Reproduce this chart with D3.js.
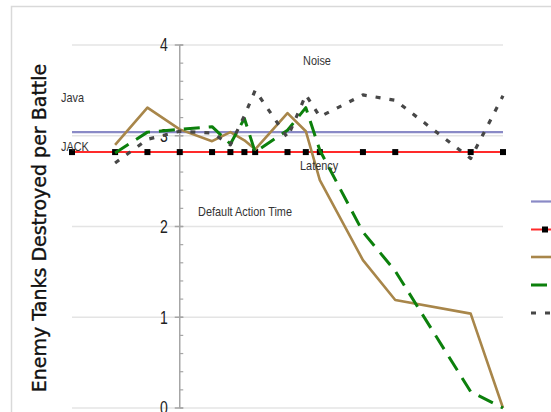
<!DOCTYPE html>
<html>
<head>
<meta charset="utf-8">
<script src="https://cdn.jsdelivr.net/npm/d3@7"></script>
<style>
  html, body { margin: 0; padding: 0; background: #fff; overflow: hidden; }
  svg { display: block; }
</style>
</head>
<body>
<svg id="chart" width="551" height="412"></svg>
<script>
// ---- data ----
const xValues   = [-1, -0.6, -0.3, 0, 0.3, 0.47, 0.6, 0.7, 1, 1.17, 1.3, 1.7, 2, 2.7, 3];
const javaValue = 3.04;
const jackValue = 2.82;
const defaultActionTime = [null, 2.90, 3.31, 3.07, 2.94, 3.04, 2.95, 2.85, 3.25, 3.05, 2.51, 1.63, 1.19, 1.04, 0.00];
const latency           = [null, 2.81, 3.04, 3.07, 3.10, 2.91, 3.19, 2.82, 3.06, 3.31, 2.84, 1.94, 1.51, 0.18, 0.00];
const noise             = [null, 2.70, 2.96, 3.05, 3.03, 2.90, 3.22, 3.50, 2.98, 3.45, 3.21, 3.45, 3.39, 2.75, 3.44];
const yTicks = [0, 1, 2, 3, 4];
const yMinorTicks = d3.range(0, 4.0001, 0.2);
const seriesNames = ["Java", "JACK", "Default Action Time", "Latency", "Noise"];

// ---- layout ----
const svg = d3.select("#chart");
const x = d3.scaleLinear().domain([-1, 3]).range([72, 503]);
const y = d3.scaleLinear().domain([0, 4]).range([408, 45]);
const labelFont = "'Liberation Sans', Arial, sans-serif";

// outer frame
svg.append("rect").attr("x", 11.5).attr("y", 6.5).attr("width", 700).attr("height", 700)
  .attr("fill", "#fff").attr("stroke", "#d9d9d9").attr("stroke-width", 1.5);

// gridlines
svg.append("g").selectAll("line").data(yTicks).join("line")
  .attr("x1", x(-1)).attr("x2", x(3))
  .attr("y1", d => y(d)).attr("y2", d => y(d))
  .attr("stroke", "#e4e4e4").attr("stroke-width", 1.5);

// y axis at x = 0
const axisG = svg.append("g").attr("transform", `translate(${x(0)},0)`);
axisG.append("line").attr("y1", y(4)).attr("y2", y(0)).attr("stroke", "#a6a6a6").attr("stroke-width", 1.5);
axisG.selectAll("line.minor").data(yMinorTicks).join("line").attr("class", "minor")
  .attr("x1", 0).attr("x2", 3.5).attr("y1", d => y(d)).attr("y2", d => y(d))
  .attr("stroke", "#a6a6a6").attr("stroke-width", 1.2);
axisG.selectAll("line.major").data(yTicks).join("line").attr("class", "major")
  .attr("x1", -5).attr("x2", 3.5).attr("y1", d => y(d)).attr("y2", d => y(d))
  .attr("stroke", "#a6a6a6").attr("stroke-width", 1.5);
axisG.selectAll("text").data(yTicks).join("text")
  .attr("transform", d => `translate(-12,${y(d)}) scale(0.78,1)`)
  .attr("dy", "0.36em")
  .attr("text-anchor", "end")
  .attr("font-family", labelFont).attr("font-size", 18).attr("fill", "#222")
  .text(d => d);

// y axis title
svg.append("text")
  .attr("transform", `translate(46,228) rotate(-90)`)
  .attr("text-anchor", "middle")
  .attr("font-family", "'DejaVu Sans', Verdana, sans-serif")
  .attr("font-size", 19).attr("fill", "#111")
  .attr("stroke", "#111").attr("stroke-width", 0.35)
  .text("Enemy Tanks Destroyed per Battle");

// series
const line = d3.line().defined(d => d[1] != null).x(d => x(d[0])).y(d => y(d[1]));
const zip = vals => xValues.map((xv, i) => [xv, vals[i]]);

const styles = [
  { color: "#8a8ac6", width: 2.2, dash: null },
  { color: "#ff2a2a", width: 2, dash: null, marker: true },
  { color: "#a8864a", width: 2.6, dash: null },
  { color: "#0c800c", width: 3, dash: "16,9" },
  { color: "#474747", width: 3.2, dash: "5,9" }
];
const seriesData = [
  zip(xValues.map(() => javaValue)),
  zip(xValues.map(() => jackValue)),
  zip(defaultActionTime),
  zip(latency),
  zip(noise)
];
const plot = svg.append("g");
seriesData.forEach((data, i) => {
  const s = styles[i];
  const p = plot.append("path").datum(i === 0 ? [data[0], data[data.length - 1]] : data)
    .attr("d", line).attr("fill", "none")
    .attr("stroke", s.color).attr("stroke-width", s.width)
    .attr("stroke-linejoin", "round");
  if (s.dash) p.attr("stroke-dasharray", s.dash);
  if (s.marker) {
    plot.selectAll("rect.mk").data(data).join("rect").attr("class", "mk")
      .attr("x", d => x(d[0]) - 3).attr("y", d => y(d[1]) - 3)
      .attr("width", 6).attr("height", 6).attr("fill", "#000");
  }
});

// annotations
const notes = [
  { t: "Java", px: 61, py: 97 },
  { t: "JACK", px: 61, py: 146 },
  { t: "Noise", px: 303, py: 60 },
  { t: "Latency", px: 300, py: 165 },
  { t: "Default Action Time", px: 198, py: 211 }
];
svg.append("g").selectAll("text").data(notes).join("text")
  .attr("transform", d => `translate(${d.px},${d.py}) scale(0.84,1)`)
  .attr("dy", "0.35em")
  .attr("font-family", labelFont).attr("font-size", 13).attr("fill", "#333")
  .text(d => d.t);

// legend (cut at the right edge)
const legendY = [201.5, 229.5, 257, 285, 313];
const lg = svg.append("g");
styles.forEach((s, i) => {
  const l = lg.append("line").attr("x1", 531).attr("x2", 560)
    .attr("y1", legendY[i]).attr("y2", legendY[i])
    .attr("stroke", s.color).attr("stroke-width", s.width);
  if (s.dash) l.attr("stroke-dasharray", s.dash);
  if (s.marker) lg.append("rect").attr("x", 542).attr("y", legendY[i] - 3)
    .attr("width", 6).attr("height", 6).attr("fill", "#000");
});
</script>
</body>
</html>
